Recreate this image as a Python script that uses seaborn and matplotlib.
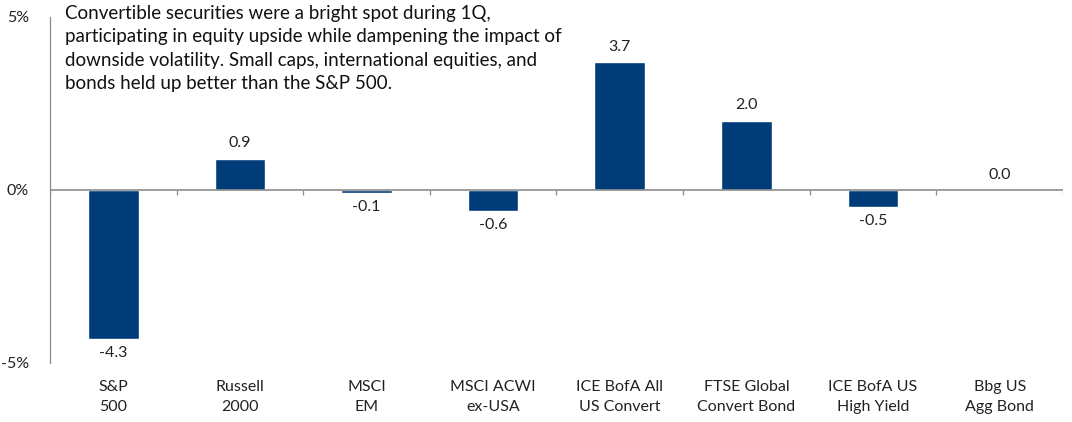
import numpy as np
import pandas as pd
import matplotlib
matplotlib.use("Agg")
import matplotlib.pyplot as plt
import seaborn as sns

# Data (1Q returns, %)
categories = ["S&P\n500", "Russell\n2000", "MSCI\nEM", "MSCI ACWI\nex-USA",
              "ICE BofA All\nUS Convert", "FTSE Global\nConvert Bond",
              "ICE BofA US\nHigh Yield", "Bbg US\nAgg Bond"]
returns = [-4.3, 0.9, -0.1, -0.6, 3.7, 2.0, -0.5, 0.0]
y_ticks = [-5, 0, 5]
y_tick_labels = ["-5%", "0%", "5%"]

note = ("Convertible securities were a bright spot during 1Q,\n"
        "participating in equity upside while dampening the impact of\n"
        "downside volatility. Small caps, international equities, and\n"
        "bonds held up better than the S&P 500.")

df = pd.DataFrame({"category": categories, "ret": returns})

sns.set_style("white")
plt.rcParams["font.family"] = ["Lato", "DejaVu Sans"]

bar_color = "#003C78"
grey = "#8C8C8C"

fig = plt.figure(figsize=(10.72, 4.22), dpi=100)
ax = fig.add_axes([0.0466, 0.14, 0.9450, 0.82])

sns.barplot(data=df, x="category", y="ret", color=bar_color, width=0.4,
            saturation=1, ax=ax)

ax.set_ylim(-5, 5)
ax.set_xlim(-0.5, len(categories) - 0.5)
ax.set_yticks(y_ticks)
ax.set_yticklabels(y_tick_labels, fontsize=11.5)
ax.set_xlabel("")
ax.set_ylabel("")
ax.tick_params(axis="y", direction="out", length=5, color=grey, width=0.8,
               pad=10, labelcolor="#222222")
ax.tick_params(axis="x", length=0, pad=12, labelsize=11.5, labelcolor="#222222")
for lbl in ax.get_xticklabels():
    lbl.set_linespacing(1.55)

for side in ["top", "right", "bottom"]:
    ax.spines[side].set_visible(False)
ax.spines["left"].set_color(grey)
ax.spines["left"].set_linewidth(0.9)

# zero line with category separator ticks
ax.axhline(0, color=grey, lw=1.2, zorder=1)
bounds = np.arange(len(categories) + 1) - 0.5
ax.vlines(bounds, -0.15, 0, color=grey, lw=0.9, zorder=1)

# value labels
for i, v in enumerate(returns):
    if v >= 0:
        ax.annotate(f"{v:.1f}", (i, v), xytext=(0, 6), textcoords="offset points",
                    ha="center", va="bottom", fontsize=11.5, color="#222222")
    else:
        ax.annotate(f"{v:.1f}", (i, v), xytext=(0, -5), textcoords="offset points",
                    ha="center", va="top", fontsize=11.5, color="#222222")

fig.text(0.0605, 0.988, note, ha="left", va="top", fontsize=13.5,
         linespacing=1.45, color="#111111")

fig.savefig("out.png", dpi=100)
